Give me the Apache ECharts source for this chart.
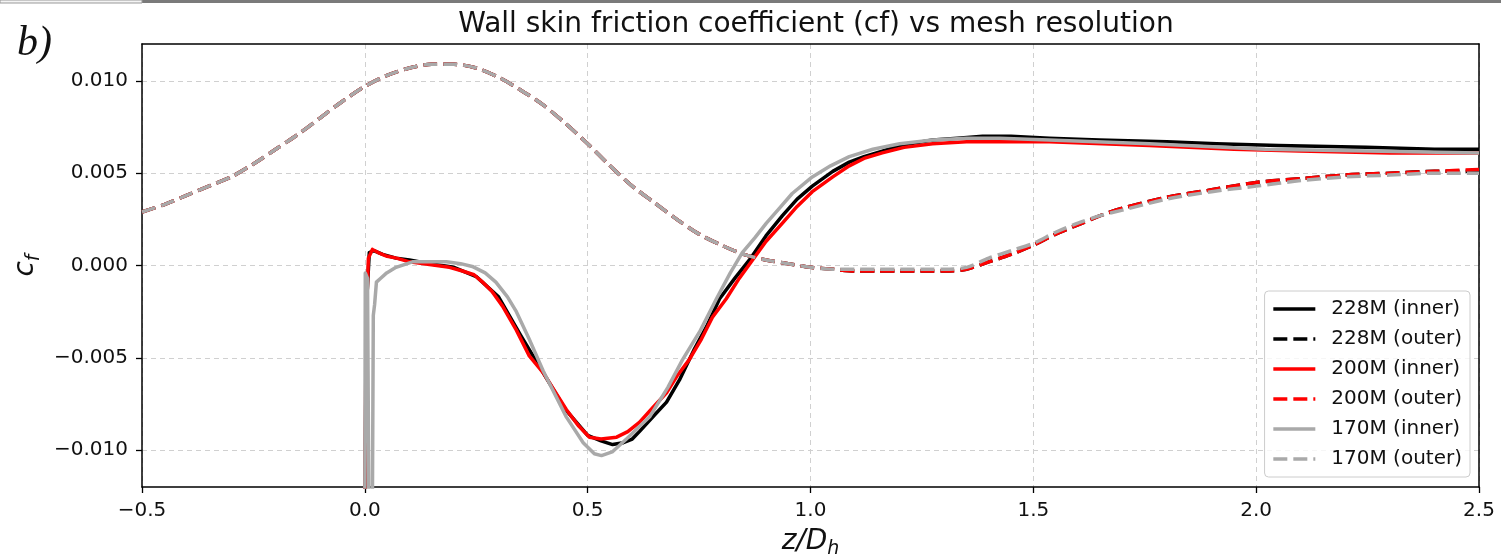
<!DOCTYPE html>
<html>
<head>
<meta charset="utf-8">
<script src="https://cdn.jsdelivr.net/npm/echarts@6/dist/echarts.min.js"></script>
<style>
html,body{margin:0;padding:0;background:#fff;}
#chart{width:1501px;height:558px;}
</style>
</head>
<body>
<div id="chart"></div>
<script>
// ---- data ----
const titleText = 'Wall skin friction coefficient (cf) vs mesh resolution';
const seriesNames = ['228M (inner)', '228M (outer)', '200M (inner)', '200M (outer)', '170M (inner)', '170M (outer)'];
const xTicks = [-0.5, 0.0, 0.5, 1.0, 1.5, 2.0, 2.5];
const yTicks = [-0.010, -0.005, 0.000, 0.005, 0.010];

const xOuter = [-0.5,-0.45,-0.4,-0.35,-0.3,-0.25,-0.2,-0.15,-0.1,-0.05,0,0.05,0.1,0.15,0.2,0.25,0.3,0.35,0.4,0.45,0.5,0.55,0.6,0.65,0.7,0.75,0.8,0.85,0.9,0.95,1.0,1.05,1.1,1.15,1.2,1.25,1.3,1.35,1.4,1.45,1.5,1.55,1.6,1.65,1.7,1.8,1.9,2.0,2.1,2.2,2.3,2.4,2.5];
const outer228 = [0.0029,0.0033,0.0038,0.0043,0.0048,0.0055,0.0063,0.0071,0.0080,0.0089,0.0097,0.0103,0.0107,0.0109,0.0109,0.0107,0.0102,0.0095,0.0087,0.0077,0.0066,0.0054,0.0043,0.0034,0.0025,0.0017,0.0011,0.0006,0.0003,0.0001,-0.0001,-0.0002,-0.0003,-0.0003,-0.0003,-0.0003,-0.0003,-0.0002,0.0002,0.0006,0.0011,0.0017,0.0022,0.0027,0.0031,0.0037,0.0041,0.0045,0.0047,0.0049,0.0050,0.0051,0.0051];
const outer200 = [0.0029,0.0033,0.0038,0.0043,0.0048,0.0055,0.0063,0.0071,0.0080,0.0089,0.0097,0.0103,0.0107,0.0109,0.0109,0.0107,0.0102,0.0095,0.0087,0.0077,0.0066,0.0054,0.0043,0.0034,0.0025,0.0017,0.0011,0.0006,0.0003,0.0001,-0.0001,-0.0002,-0.0003,-0.0003,-0.0003,-0.0003,-0.0003,-0.0002,0.0002,0.0006,0.0011,0.0017,0.0022,0.0027,0.0031,0.0037,0.0041,0.0045,0.0047,0.0049,0.0050,0.0051,0.0052];
const outer170 = [0.0029,0.0033,0.0038,0.0043,0.0048,0.0055,0.0063,0.0071,0.0080,0.0089,0.0097,0.0103,0.0107,0.0109,0.0109,0.0107,0.0102,0.0095,0.0087,0.0077,0.0066,0.0054,0.0043,0.0034,0.0025,0.0017,0.0011,0.0006,0.0003,0.0001,-0.0001,-0.0002,-0.0002,-0.0002,-0.0002,-0.0002,-0.0002,-0.0001,0.0004,0.0008,0.0012,0.0018,0.0023,0.0027,0.0030,0.0036,0.0040,0.0043,0.0046,0.0048,0.0049,0.0050,0.0050];

const inner228X = [0,0.004,0.01,0.02,0.04,0.07,0.1,0.145,0.2,0.25,0.3,0.35,0.4,0.45,0.5,0.53,0.556,0.58,0.6,0.616,0.65,0.677,0.706,0.74,0.767,0.796,0.83,0.863,0.9,0.937,0.97,1.004,1.05,1.087,1.12,1.161,1.2,1.274,1.33,1.386,1.45,1.536,1.648,1.8,1.911,2.05,2.247,2.4,2.5];
const inner228Y = [-0.013,-0.002,0.0007,0.0008,0.0006,0.0004,0.0003,0.0001,-0.0001,-0.0006,-0.0017,-0.0038,-0.0058,-0.0078,-0.0092,-0.0095,-0.0097,-0.0096,-0.0094,-0.0090,-0.0081,-0.0074,-0.0062,-0.0045,-0.0033,-0.0018,-0.0007,0.0003,0.0016,0.0027,0.0036,0.0043,0.0051,0.0056,0.0059,0.0062,0.0065,0.0068,0.0069,0.0070,0.0070,0.0069,0.0068,0.0067,0.0066,0.0065,0.0064,0.0063,0.0063];

const inner200X = [0,0.003,0.008,0.017,0.03,0.05,0.071,0.1,0.145,0.19,0.219,0.245,0.264,0.285,0.309,0.34,0.369,0.4,0.452,0.48,0.504,0.53,0.565,0.59,0.616,0.65,0.677,0.7,0.728,0.755,0.78,0.811,0.84,0.87,0.9,0.937,0.97,1.004,1.05,1.087,1.12,1.161,1.21,1.274,1.35,1.424,1.536,1.76,1.95,2.097,2.3,2.5];
const inner200Y = [-0.013,-0.003,0.0004,0.00087,0.0007,0.0005,0.0004,0.0002,0.00005,-0.0001,-0.0003,-0.0005,-0.0009,-0.0014,-0.0022,-0.0035,-0.0049,-0.0058,-0.0078,-0.0087,-0.0093,-0.0094,-0.0093,-0.0090,-0.0085,-0.0076,-0.0069,-0.0060,-0.0051,-0.0040,-0.0028,-0.0018,-0.0007,0.0003,0.0013,0.0023,0.0032,0.0040,0.0048,0.0054,0.0058,0.0061,0.0064,0.0066,0.0067,0.0067,0.0067,0.0065,0.0063,0.0062,0.0061,0.0061];

const inner170X = [0,0.001,0.006,0.009,0.017,0.019,0.022,0.026,0.035,0.049,0.07,0.107,0.15,0.183,0.215,0.241,0.27,0.294,0.32,0.34,0.369,0.4,0.452,0.49,0.515,0.531,0.555,0.587,0.639,0.68,0.713,0.751,0.789,0.82,0.847,0.875,0.901,0.93,0.959,1.004,1.045,1.087,1.14,1.2,1.274,1.35,1.424,1.536,1.76,2.02,2.25,2.5];
const inner170Y = [-0.013,-0.0004,-0.0007,-0.013,-0.013,-0.0027,-0.0021,-0.0009,-0.0007,-0.0004,-0.0001,0.0002,0.0002,0.0002,0.0001,-0.00005,-0.0004,-0.0009,-0.0017,-0.0025,-0.0040,-0.0057,-0.0082,-0.0096,-0.0102,-0.0103,-0.0101,-0.0094,-0.0082,-0.0066,-0.0051,-0.0036,-0.0018,-0.0004,0.0007,0.0015,0.0023,0.0031,0.0039,0.0048,0.0054,0.0059,0.0063,0.0066,0.0068,0.0069,0.0069,0.0068,0.0066,0.0063,0.0062,0.0061];

// ---- build ----
const zip = (xs, ys) => xs.map((x, i) => [x, ys[i]]);
const FONT = 'DejaVu Sans';
const minus = s => s.replace('-', '\u2212');

function lineSeries(name, data, color, dashed) {
  return {
    name, type: 'line', data, showSymbol: false, symbol: 'none',
    smooth: dashed ? 0.3 : false, clip: true,
    lineStyle: { color, width: 3.5, type: dashed ? [14, 6] : 'solid', cap: 'butt', join: 'round' },
    itemStyle: { color },
    emphasis: { disabled: true }
  };
}

const series = [
  lineSeries(seriesNames[0], zip(inner228X, inner228Y), '#000000', false),
  lineSeries(seriesNames[1], zip(xOuter, outer228), '#000000', true),
  lineSeries(seriesNames[2], zip(inner200X, inner200Y), '#ff0000', false),
  lineSeries(seriesNames[3], zip(xOuter, outer200), '#ff0000', true),
  lineSeries(seriesNames[4], zip(inner170X, inner170Y), '#a9a9a9', false),
  lineSeries(seriesNames[5], zip(xOuter, outer170), '#a9a9a9', true)
];

const gridLine = { show: true, lineStyle: { color: '#d0d0d0', width: 1, type: [5, 4] } };
const nameRich = {
  a: { fontFamily: FONT, fontStyle: 'italic', fontSize: 28, color: '#111', lineHeight: 34 },
  b: { fontFamily: FONT, fontStyle: 'italic', fontSize: 19, color: '#111', lineHeight: 19, verticalAlign: 'bottom' }
};

const option = {
  animation: false,
  backgroundColor: '#ffffff',
  title: {
    text: titleText, left: 811, top: 6, textAlign: 'center',
    textStyle: { fontFamily: FONT, fontSize: 28, fontWeight: 'normal', color: '#111' }
  },
  grid: { left: 142, right: 22, top: 44, bottom: 71, containLabel: false, outerBoundsMode: 'none' },
  legend: {
    orient: 'vertical', right: 31, bottom: 81,
    data: seriesNames,
    itemWidth: 42, itemHeight: 14, itemGap: 10,
    padding: [8, 8, 8, 7],
    itemStyle: { opacity: 0 },
    lineStyle: { width: 3.5 },
    backgroundColor: 'rgba(255,255,255,0.8)',
    borderColor: '#cccccc', borderWidth: 1, borderRadius: 4,
    textStyle: { fontFamily: FONT, fontSize: 20, color: '#111', padding: [0, 0, 0, 11] },
    selectedMode: false
  },
  xAxis: [{
    type: 'value', min: -0.5, max: 2.5, interval: 0.5, position: 'bottom',
    name: '{a|z/D}{b|h}', nameLocation: 'middle', nameGap: 38,
    nameTextStyle: { rich: nameRich },
    axisLine: { show: true, onZero: false, lineStyle: { color: '#000', width: 1.5 } },
    axisTick: { show: true, length: 6, lineStyle: { color: '#000', width: 1.3 } },
    axisLabel: { margin: 14, fontFamily: FONT, fontSize: 20, color: '#111', formatter: v => minus(v.toFixed(1)) },
    splitLine: gridLine
  }, {
    type: 'value', min: -0.5, max: 2.5, interval: 0.5, position: 'top',
    axisLine: { show: true, onZero: false, lineStyle: { color: '#000', width: 1.5 } },
    axisTick: { show: false }, axisLabel: { show: false }, splitLine: { show: false }
  }],
  yAxis: [{
    type: 'value', min: -0.012, max: 0.012, position: 'left',
    name: '{a|c}{b|f}', nameLocation: 'middle', nameGap: 84, nameRotate: 90,
    nameTextStyle: { rich: nameRich },
    axisLine: { show: true, onZero: false, lineStyle: { color: '#000', width: 1.5 } },
    axisTick: { show: true, length: 6, customValues: yTicks, lineStyle: { color: '#000', width: 1.3 } },
    axisLabel: { margin: 14, customValues: yTicks, fontFamily: FONT, fontSize: 20, color: '#111', formatter: v => minus(v.toFixed(3)) },
    splitLine: gridLine
  }, {
    type: 'value', min: -0.012, max: 0.012, position: 'right',
    axisLine: { show: true, onZero: false, lineStyle: { color: '#000', width: 1.5 } },
    axisTick: { show: false }, axisLabel: { show: false }, splitLine: { show: false }
  }],
  graphic: [
    { type: 'rect', shape: { x: 142, y: 0, width: 1359, height: 3 }, style: { fill: '#7a7a7a' }, silent: true },
    { type: 'rect', shape: { x: 0, y: 0, width: 142, height: 3 }, style: { fill: '#f4f4f4', stroke: '#999', lineWidth: 1 }, silent: true },
    { type: 'text', left: 17, top: 23, style: { text: 'b)', fontFamily: 'Liberation Serif', fontStyle: 'italic', fontSize: 42, fill: '#111' }, silent: true }
  ],
  series
};

const chart = echarts.init(document.getElementById('chart'), null, { renderer: 'canvas' });
chart.setOption(option);
</script>
</body>
</html>
